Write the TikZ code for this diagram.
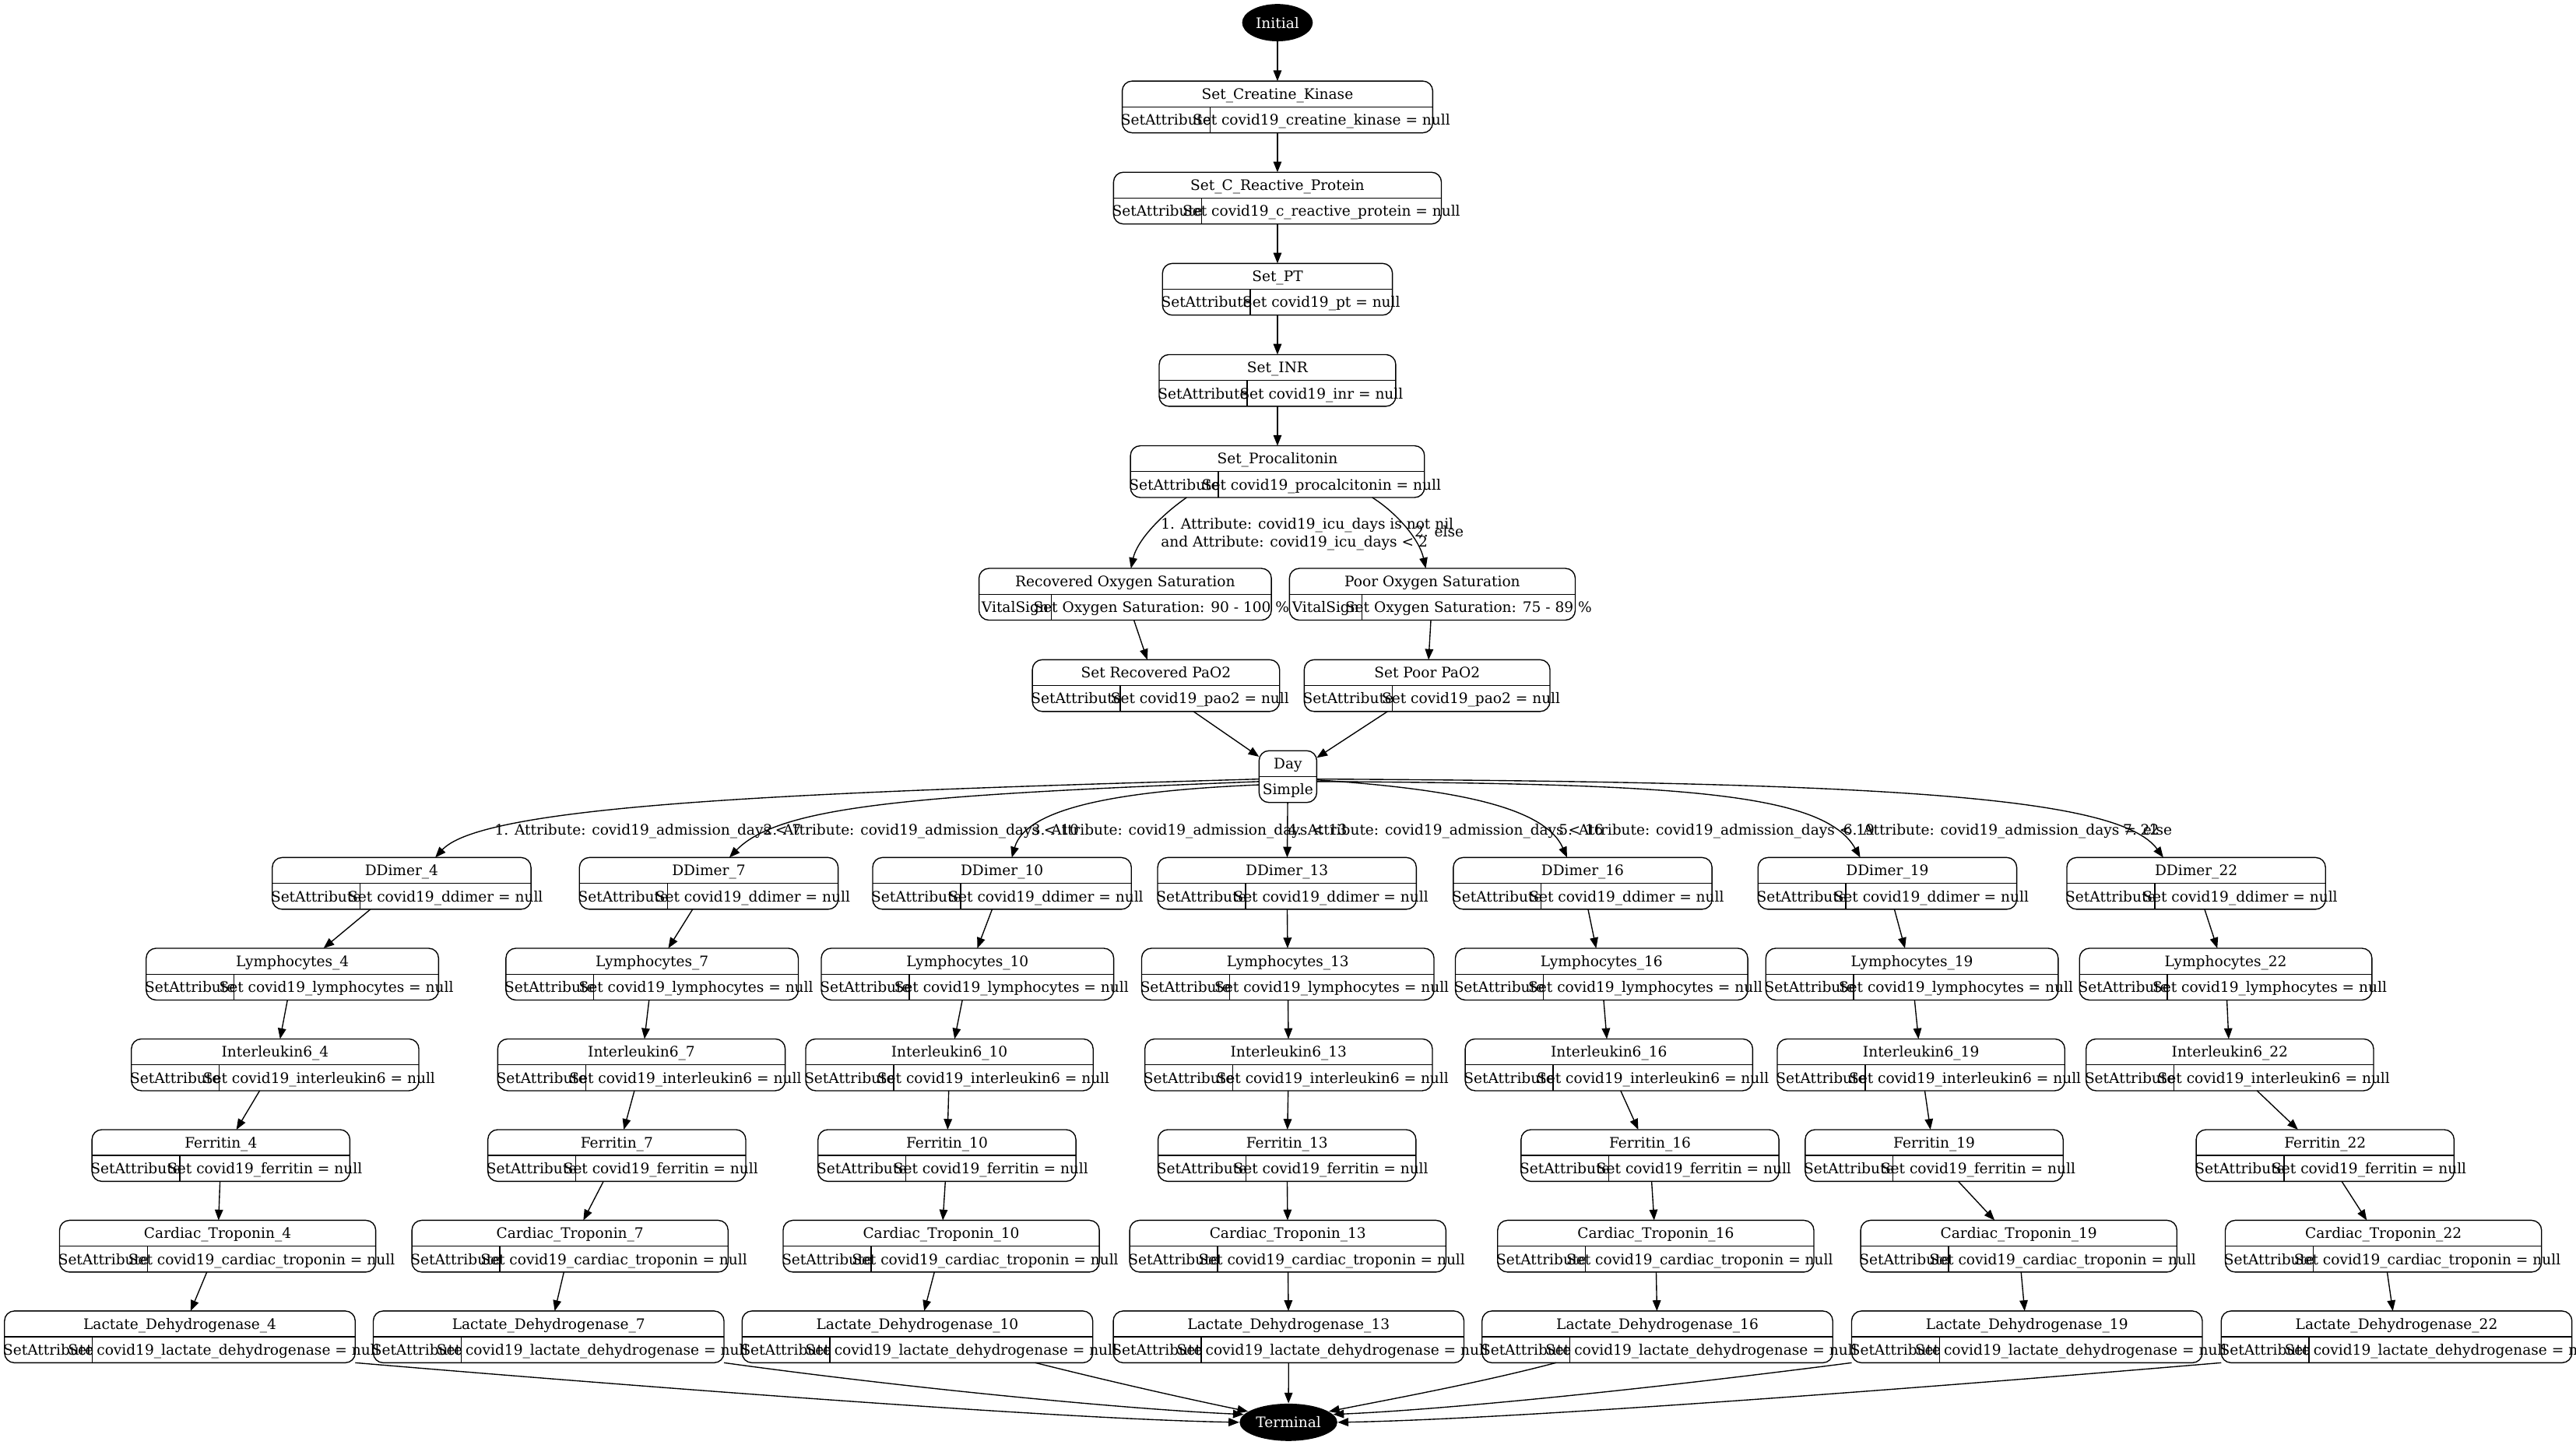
\documentclass[tikz,border=0pt]{standalone}
\usepackage{fontspec}
\setmainfont{DejaVu Serif}
\usetikzlibrary{arrows.meta, positioning, calc, shapes.geometric}
\newcommand{\recfont}{\fontsize{8.8pt}{11pt}\selectfont}
\tikzset{
    x=1pt, y=1pt,
    node distance=24pt,
    >={Triangle[length=6.5pt, width=5pt]},
    rec/.style={draw, rounded corners=6pt, minimum height=31.5pt, inner sep=0pt, outer sep=0pt, line width=0.65pt},
    recline/.style={line width=0.65pt},
    txt/.style={font=\recfont, inner sep=0pt, text height=8pt, text depth=1.6pt},
    multi/.style={font=\recfont, inner sep=0pt, align=left},
    term/.style={ellipse, fill=black, text=white, font=\recfont, minimum height=22.7pt, inner sep=0pt},
    flow/.style={->, line width=0.65pt}
}
% record node: [placement]{name}{width}{left cell}{title}{left text}{right text}
\newcommand{\recnode}[7][]{%
    \node[rec, minimum width=#3pt, #1] (#2) {};
    \draw[recline] (#2.west) -- (#2.east)
        ([xshift=#4pt]#2.south west) coordinate (#2-d) -- ([xshift=#4pt]#2.west);
    \node[txt] (#2-t) at ($(#2.north)!.5!(#2.center)$) {#5};
    \node[txt] (#2-l) at ($(#2.west)!.5!(#2-d)$) {#6};
    \node[txt] (#2-r) at ($(#2-d)!.5!(#2.east)$) {#7};
}

\begin{document}
\begin{tikzpicture}
    \path[use as bounding box, fill=white] (0,0) rectangle (1568.25,-879.6);

    \node (init) [term, minimum width=43pt] at (777.7,-13.8) {Initial};
    \recnode[below=of init]{ck}{189}{53.5}{Set\_Creatine\_Kinase}{SetAttribute}{Set covid19\_creatine\_kinase = null}
    \recnode[below=of ck]{crp}{199.6}{53.5}{Set\_C\_Reactive\_Protein}{SetAttribute}{Set covid19\_c\_reactive\_protein = null}
    \recnode[below=of crp]{pt}{140}{53.5}{Set\_PT}{SetAttribute}{Set covid19\_pt = null}
    \recnode[below=of pt]{inr}{144}{53.5}{Set\_INR}{SetAttribute}{Set covid19\_inr = null}
    \recnode[below=of inr]{proc}{179}{53.5}{Set\_Procalitonin}{SetAttribute}{Set covid19\_procalcitonin = null}

    \recnode[at={(685,-361.75)}]{rox}{178}{44}{Recovered Oxygen Saturation}{VitalSign}{Set Oxygen Saturation: 90 - 100 \%}
    \recnode[at={(872,-361.75)}]{pox}{174}{44}{Poor Oxygen Saturation}{VitalSign}{Set Oxygen Saturation: 75 - 89 \%}
    \recnode[at={(703.75,-417.35)}]{srp}{150.5}{53.5}{Set Recovered PaO2}{SetAttribute}{Set covid19\_pao2 = null}
    \recnode[at={(868.8,-417.35)}]{spp}{149.6}{53.5}{Set Poor PaO2}{SetAttribute}{Set covid19\_pao2 = null}

    \node (day) [rec, minimum width=35.1pt] at (784.05,-472.75) {};
    \draw[recline] (day.west) -- (day.east);
    \node (day-t) [txt] at ($(day.north)!.5!(day.center)$) {Day};
    \node (day-b) [txt] at ($(day.south)!.5!(day.center)$) {Simple};

    % day 4
    \recnode[at={(244.5,-537.75)}]{dd4}{157.5}{53.5}{DDimer\_4}{SetAttribute}{Set covid19\_ddimer = null}
    \recnode[at={(178,-593)}]{ly4}{178}{53.5}{Lymphocytes\_4}{SetAttribute}{Set covid19\_lymphocytes = null}
    \recnode[at={(167.5,-648.2)}]{il4}{175}{53.5}{Interleukin6\_4}{SetAttribute}{Set covid19\_interleukin6 = null}
    \recnode[at={(134.5,-703.4)}]{fe4}{157}{53.5}{Ferritin\_4}{SetAttribute}{Set covid19\_ferritin = null}
    \recnode[at={(132.5,-758.6)}]{ct4}{192.5}{53.5}{Cardiac\_Troponin\_4}{SetAttribute}{Set covid19\_cardiac\_troponin = null}
    \recnode[at={(109.5,-813.8)}]{ld4}{213.5}{53.5}{Lactate\_Dehydrogenase\_4}{SetAttribute}{Set covid19\_lactate\_dehydrogenase = null}
    % day 7
    \recnode[at={(431.5,-537.75)}]{dd7}{157.5}{53.5}{DDimer\_7}{SetAttribute}{Set covid19\_ddimer = null}
    \recnode[at={(397,-593)}]{ly7}{178}{53.5}{Lymphocytes\_7}{SetAttribute}{Set covid19\_lymphocytes = null}
    \recnode[at={(390.5,-648.2)}]{il7}{175}{53.5}{Interleukin6\_7}{SetAttribute}{Set covid19\_interleukin6 = null}
    \recnode[at={(375.5,-703.4)}]{fe7}{157}{53.5}{Ferritin\_7}{SetAttribute}{Set covid19\_ferritin = null}
    \recnode[at={(347,-758.6)}]{ct7}{192.5}{53.5}{Cardiac\_Troponin\_7}{SetAttribute}{Set covid19\_cardiac\_troponin = null}
    \recnode[at={(334,-813.8)}]{ld7}{213.5}{53.5}{Lactate\_Dehydrogenase\_7}{SetAttribute}{Set covid19\_lactate\_dehydrogenase = null}
    % day 10
    \recnode[at={(610,-537.75)}]{dd10}{157.5}{53.5}{DDimer\_10}{SetAttribute}{Set covid19\_ddimer = null}
    \recnode[at={(589,-593)}]{ly10}{178}{53.5}{Lymphocytes\_10}{SetAttribute}{Set covid19\_lymphocytes = null}
    \recnode[at={(578,-648.2)}]{il10}{175}{53.5}{Interleukin6\_10}{SetAttribute}{Set covid19\_interleukin6 = null}
    \recnode[at={(576.5,-703.4)}]{fe10}{157}{53.5}{Ferritin\_10}{SetAttribute}{Set covid19\_ferritin = null}
    \recnode[at={(573,-758.6)}]{ct10}{192.5}{53.5}{Cardiac\_Troponin\_10}{SetAttribute}{Set covid19\_cardiac\_troponin = null}
    \recnode[at={(558.5,-813.8)}]{ld10}{213.5}{53.5}{Lactate\_Dehydrogenase\_10}{SetAttribute}{Set covid19\_lactate\_dehydrogenase = null}
    % day 13
    \recnode[at={(783.5,-537.75)}]{dd13}{157.5}{53.5}{DDimer\_13}{SetAttribute}{Set covid19\_ddimer = null}
    \recnode[at={(784,-593)}]{ly13}{178}{53.5}{Lymphocytes\_13}{SetAttribute}{Set covid19\_lymphocytes = null}
    \recnode[at={(784.5,-648.2)}]{il13}{175}{53.5}{Interleukin6\_13}{SetAttribute}{Set covid19\_interleukin6 = null}
    \recnode[at={(783.5,-703.4)}]{fe13}{157}{53.5}{Ferritin\_13}{SetAttribute}{Set covid19\_ferritin = null}
    \recnode[at={(784,-758.6)}]{ct13}{192.5}{53.5}{Cardiac\_Troponin\_13}{SetAttribute}{Set covid19\_cardiac\_troponin = null}
    \recnode[at={(784.5,-813.8)}]{ld13}{213.5}{53.5}{Lactate\_Dehydrogenase\_13}{SetAttribute}{Set covid19\_lactate\_dehydrogenase = null}
    % day 16
    \recnode[at={(963.5,-537.75)}]{dd16}{157.5}{53.5}{DDimer\_16}{SetAttribute}{Set covid19\_ddimer = null}
    \recnode[at={(975,-593)}]{ly16}{178}{53.5}{Lymphocytes\_16}{SetAttribute}{Set covid19\_lymphocytes = null}
    \recnode[at={(979.5,-648.2)}]{il16}{175}{53.5}{Interleukin6\_16}{SetAttribute}{Set covid19\_interleukin6 = null}
    \recnode[at={(1004.5,-703.4)}]{fe16}{157}{53.5}{Ferritin\_16}{SetAttribute}{Set covid19\_ferritin = null}
    \recnode[at={(1008,-758.6)}]{ct16}{192.5}{53.5}{Cardiac\_Troponin\_16}{SetAttribute}{Set covid19\_cardiac\_troponin = null}
    \recnode[at={(1009,-813.8)}]{ld16}{213.5}{53.5}{Lactate\_Dehydrogenase\_16}{SetAttribute}{Set covid19\_lactate\_dehydrogenase = null}
    % day 19
    \recnode[at={(1149,-537.75)}]{dd19}{157.5}{53.5}{DDimer\_19}{SetAttribute}{Set covid19\_ddimer = null}
    \recnode[at={(1164,-593)}]{ly19}{178}{53.5}{Lymphocytes\_19}{SetAttribute}{Set covid19\_lymphocytes = null}
    \recnode[at={(1169.5,-648.2)}]{il19}{175}{53.5}{Interleukin6\_19}{SetAttribute}{Set covid19\_interleukin6 = null}
    \recnode[at={(1177.5,-703.4)}]{fe19}{157}{53.5}{Ferritin\_19}{SetAttribute}{Set covid19\_ferritin = null}
    \recnode[at={(1229,-758.6)}]{ct19}{192.5}{53.5}{Cardiac\_Troponin\_19}{SetAttribute}{Set covid19\_cardiac\_troponin = null}
    \recnode[at={(1234,-813.8)}]{ld19}{213.5}{53.5}{Lactate\_Dehydrogenase\_19}{SetAttribute}{Set covid19\_lactate\_dehydrogenase = null}
    % day 22
    \recnode[at={(1337,-537.75)}]{dd22}{157.5}{53.5}{DDimer\_22}{SetAttribute}{Set covid19\_ddimer = null}
    \recnode[at={(1355,-593)}]{ly22}{178}{53.5}{Lymphocytes\_22}{SetAttribute}{Set covid19\_lymphocytes = null}
    \recnode[at={(1357.5,-648.2)}]{il22}{175}{53.5}{Interleukin6\_22}{SetAttribute}{Set covid19\_interleukin6 = null}
    \recnode[at={(1415.5,-703.4)}]{fe22}{157}{53.5}{Ferritin\_22}{SetAttribute}{Set covid19\_ferritin = null}
    \recnode[at={(1451,-758.6)}]{ct22}{192.5}{53.5}{Cardiac\_Troponin\_22}{SetAttribute}{Set covid19\_cardiac\_troponin = null}
    \recnode[at={(1459,-813.8)}]{ld22}{213.5}{53.5}{Lactate\_Dehydrogenase\_22}{SetAttribute}{Set covid19\_lactate\_dehydrogenase = null}

    \node (term) [term, minimum width=59.5pt] at (784.4,-865.8) {Terminal};

    % branch labels
    \node (icu-yes) [multi, anchor=west] at (706.6,-325) {1. Attribute: covid19\_icu\_days is not nil\\and Attribute: covid19\_icu\_days < 2};
    \node (icu-else) [txt, anchor=west] at (861,-323.8) {2. else};
    \node (adm1) [txt, anchor=west] at (301,-505) {1. Attribute: covid19\_admission\_days < 7};
    \node (adm2) [txt, anchor=west] at (464.5,-505) {2. Attribute: covid19\_admission\_days < 10};
    \node (adm3) [txt, anchor=west] at (627.7,-505) {3. Attribute: covid19\_admission\_days < 13};
    \node (adm4) [txt, anchor=west] at (783.8,-505) {4. Attribute: covid19\_admission\_days < 16};
    \node (adm5) [txt, anchor=west] at (948.8,-505) {5. Attribute: covid19\_admission\_days < 19};
    \node (adm6) [txt, anchor=west] at (1122,-505) {6. Attribute: covid19\_admission\_days = 22};
    \node (adm7) [txt, anchor=west] at (1292.3,-505) {7. else};

    \draw[flow]
        (init) edge (ck)
        (ck) edge (crp)
        (crp) edge (pt)
        (pt) edge (inr)
        (inr) edge (proc)
        (rox) edge (srp)
        (pox) edge (spp)
        (srp) edge (day)
        (spp) edge (day)
        (day) edge (dd13)
        ;
    \draw[flow] ([xshift=-55.3pt]proc.south) .. controls (705,-315) and (692,-330) .. ([xshift=3.5pt]rox.north);
    \draw[flow] ([xshift=57.7pt]proc.south) .. controls (850,-312) and (864,-328) .. ([xshift=-4pt]pox.north);

    \draw[flow] ([yshift=-1.5pt]day.west) .. controls (500,-482) and (295,-489) .. ([xshift=20.5pt]dd4.north);
    \draw[flow] ([yshift=-3pt]day.west) .. controls (560,-484) and (475,-490) .. ([xshift=12.5pt]dd7.north);
    \draw[flow] ([yshift=-5pt]day.west) .. controls (690,-481) and (625,-490) .. ([xshift=6pt]dd10.north);
    \draw[flow] ([yshift=-2pt]day.east) .. controls (880,-480) and (940,-490) .. ([xshift=-9.5pt]dd16.north);
    \draw[flow] ([yshift=-3pt]day.east) .. controls (1020,-477) and (1110,-482) .. ([xshift=-16.5pt]dd19.north);
    \draw[flow] ([yshift=-1.5pt]day.east) .. controls (1150,-476) and (1290,-485) .. ([xshift=-20pt]dd22.north);

    \draw[flow]
        (dd4) edge (ly4)   (ly4) edge (il4)   (il4) edge (fe4)   (fe4) edge (ct4)   (ct4) edge (ld4)
        (dd7) edge (ly7)   (ly7) edge (il7)   (il7) edge (fe7)   (fe7) edge (ct7)   (ct7) edge (ld7)
        (dd10) edge (ly10) (ly10) edge (il10) (il10) edge (fe10) (fe10) edge (ct10) (ct10) edge (ld10)
        (dd13) edge (ly13) (ly13) edge (il13) (il13) edge (fe13) (fe13) edge (ct13) (ct13) edge (ld13)
        (dd16) edge (ly16) (ly16) edge (il16) (il16) edge (fe16) (fe16) edge (ct16) (ct16) edge (ld16)
        (dd19) edge (ly19) (ly19) edge (il19) (il19) edge (fe19) (fe19) edge (ct19) (ct19) edge (ld19)
        (dd22) edge (ly22) (ly22) edge (il22) (il22) edge (fe22) (fe22) edge (ct22) (ct22) edge (ld22)
        (ld13) edge (term)
        ;

    \draw[flow] (ld4.south east) .. controls (400,-845) and (650,-864) .. (term.west);
    \draw[flow] (ld7.south east) .. controls (560,-846) and (690,-858) .. (term.170);
    \draw[flow] ([xshift=-35pt]ld10.south east) .. controls (680,-842) and (725,-852) .. (term.165);
    \draw[flow] ([xshift=45pt]ld16.south west) .. controls (900,-842) and (845,-852) .. (term.15);
    \draw[flow] (ld19.south west) .. controls (1000,-846) and (880,-858) .. (term.10);
    \draw[flow] (ld22.south west) .. controls (1170,-845) and (920,-864) .. (term.east);
\end{tikzpicture}
\end{document}
